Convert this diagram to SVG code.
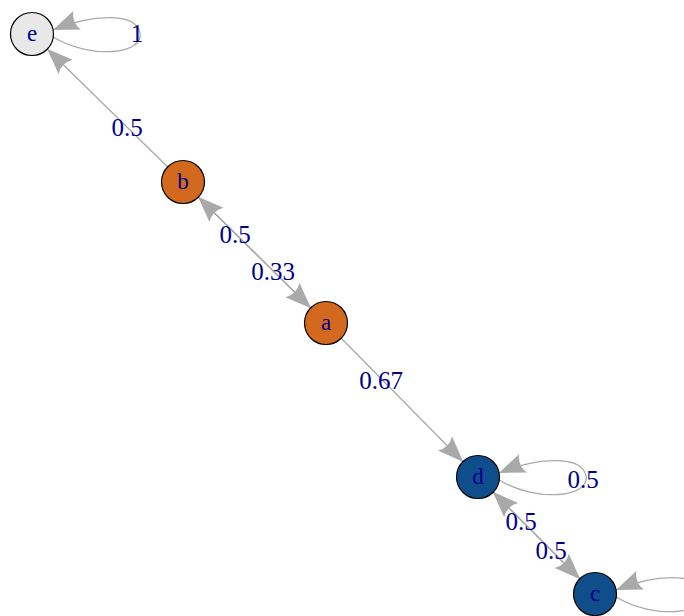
<svg xmlns="http://www.w3.org/2000/svg" width="684" height="616" viewBox="0 0 684 616">
<style>
.edge{fill:none;stroke:#A9A9A9;stroke-width:1.3}
.node{stroke:#000;stroke-width:1.2}
.nl{font-family:"Liberation Serif","Times New Roman",serif;font-size:23px;fill:#00008B;text-anchor:middle}
.el{font-family:"Liberation Serif","Times New Roman",serif;font-size:25px;fill:#00008B;text-anchor:middle}
</style>
<defs>
<marker id="arr" markerUnits="userSpaceOnUse" markerWidth="30" markerHeight="24" viewBox="-27 -12 30 24" refX="0" refY="0" orient="auto">
<path d="M0,0 L-26,-10 Q-20,0 -26,10 Z" fill="#A9A9A9"/>
</marker>
</defs>
<rect width="684" height="616" fill="#fff"/>
<g id="edges">
<line class="edge" x1="168" y1="167.3" x2="47" y2="48.7" marker-end="url(#arr)"/>
<line class="edge" x1="311" y1="308.3" x2="198" y2="196.7" marker-end="url(#arr)"/>
<line class="edge" x1="198" y1="196.7" x2="311" y2="308.3" marker-end="url(#arr)"/>
<line class="edge" x1="341" y1="338" x2="463.3" y2="462" marker-end="url(#arr)"/>
<line class="edge" x1="492.8" y1="491.8" x2="580.2" y2="579.2" marker-end="url(#arr)"/>
<line class="edge" x1="580.2" y1="579.2" x2="492.8" y2="491.8" marker-end="url(#arr)"/>
<path class="edge" transform="translate(32,34)" d="M21,3 C60,26 112,20 108,-1 C104,-22 60,-20 21,-4" marker-end="url(#arr)"/>
<path class="edge" transform="translate(478,477)" d="M21,3 C60,26 112,20 108,-1 C104,-22 60,-20 21,-4" marker-end="url(#arr)"/>
<path class="edge" transform="translate(595,594)" d="M21,3 C60,26 112,20 108,-1 C104,-22 60,-20 21,-4" marker-end="url(#arr)"/>
<text class="el" x="127" y="136">0.5</text>
<text class="el" x="137" y="42">1</text>
<text class="el" x="235" y="243">0.5</text>
<text class="el" x="273" y="280">0.33</text>
<text class="el" x="381" y="389">0.67</text>
<text class="el" x="583" y="488">0.5</text>
<text class="el" x="521" y="530">0.5</text>
<text class="el" x="551" y="559">0.5</text>
</g>
<g id="node-e"><circle class="node" cx="32" cy="34" r="21.5" fill="#E8E8E8"/><text class="nl" x="32" y="41">e</text></g>
<g id="node-b"><circle class="node" cx="183" cy="182" r="21.5" fill="#D2691E"/><text class="nl" x="183" y="189">b</text></g>
<g id="node-a"><circle class="node" cx="326" cy="323" r="21.5" fill="#D2691E"/><text class="nl" x="326" y="330">a</text></g>
<g id="node-d"><circle class="node" cx="478" cy="477" r="21.5" fill="#104E8B"/><text class="nl" x="478" y="484">d</text></g>
<g id="node-c"><circle class="node" cx="595" cy="594" r="21.5" fill="#104E8B"/><text class="nl" x="595" y="601">c</text></g>
</svg>
